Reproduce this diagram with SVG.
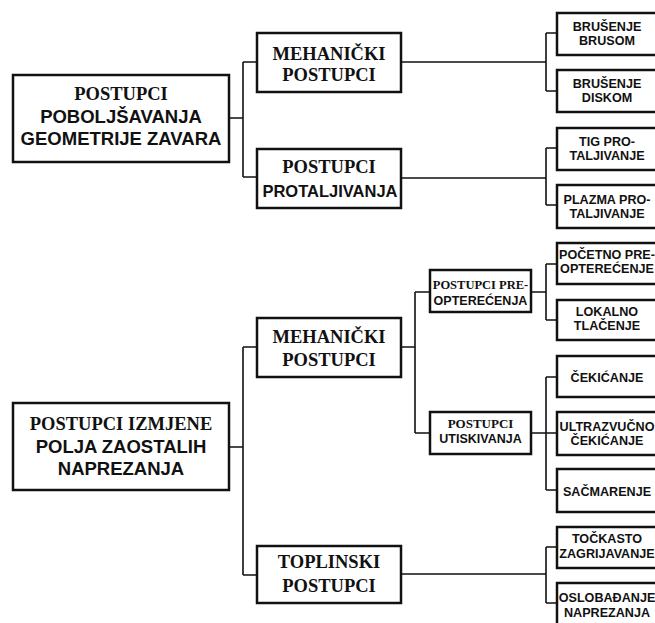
<svg xmlns="http://www.w3.org/2000/svg" width="655" height="623" viewBox="0 0 655 623">
<style>
.box{fill:#fff;stroke:#111;stroke-width:2.5}
.ln{fill:none;stroke:#111;stroke-width:1.6}
.sf{font-family:"Liberation Serif","Times New Roman",serif;font-weight:bold;fill:#111;text-anchor:middle}
.ss{font-family:"Liberation Sans",Arial,sans-serif;font-weight:bold;fill:#111;text-anchor:middle}
.big{font-size:18.5px}
.mid{font-size:13px}
.sm{font-size:12.6px}
</style>
<rect width="655" height="623" fill="#fff"/>
<g id="connectors">
<path class="ln" d="M229 118H243M243 62V177M243 62H257M243 177H257"/>
<path class="ln" d="M401 62H546M546 33V91M546 33H557M546 91H557"/>
<path class="ln" d="M401 178H546M546 148V205M546 148H557M546 205H557"/>
<path class="ln" d="M229 447H243M243 347V575M243 347H257M243 575H257"/>
<path class="ln" d="M401 347H415M415 292V433M415 292H430M415 433H430"/>
<path class="ln" d="M531 292H546M546 264V320M546 264H557M546 320H557"/>
<path class="ln" d="M531 433H557M546 377V490M546 377H557M546 490H557"/>
<path class="ln" d="M401 574H546M546 547V603M546 547H557M546 603H557"/>
</g>
<g id="n-poboljsavanje">
<rect class="box" x="13" y="75" width="216" height="87"/>
<text class="sf big" x="121" y="100">POSTUPCI</text>
<text class="ss big" x="121" y="123">POBOLJŠAVANJA</text>
<text class="ss big" x="121" y="145">GEOMETRIJE ZAVARA</text>
</g>
<g id="n-meh1">
<rect class="box" x="257" y="33" width="144" height="59"/>
<text class="sf big" x="329" y="60">MEHANIČKI</text>
<text class="sf big" x="329" y="81">POSTUPCI</text>
</g>
<g id="n-protalj">
<rect class="box" x="257" y="149" width="144" height="59"/>
<text class="sf big" x="329" y="173">POSTUPCI</text>
<text class="ss" font-size="16.5" x="330" y="197">PROTALJIVANJA</text>
</g>
<g id="n-brusom">
<rect class="box" x="557" y="13" width="102" height="42"/>
<text class="ss sm" x="607" y="31">BRUŠENJE</text>
<text class="ss sm" x="607" y="45">BRUSOM</text>
</g>
<g id="n-diskom">
<rect class="box" x="557" y="70" width="102" height="42"/>
<text class="ss sm" x="607" y="88">BRUŠENJE</text>
<text class="ss sm" x="607" y="102">DISKOM</text>
</g>
<g id="n-tig">
<rect class="box" x="557" y="128" width="102" height="42"/>
<text class="ss sm" x="607" y="146">TIG PRO-</text>
<text class="ss sm" x="607" y="160">TALJIVANJE</text>
</g>
<g id="n-plazma">
<rect class="box" x="557" y="185" width="102" height="43"/>
<text class="ss sm" x="607" y="204">PLAZMA PRO-</text>
<text class="ss sm" x="607" y="218">TALJIVANJE</text>
</g>
<g id="n-izmjena">
<rect class="box" x="13" y="403" width="216" height="87"/>
<text class="sf big" x="121" y="430">POSTUPCI IZMJENE</text>
<text class="ss big" x="121" y="453">POLJA ZAOSTALIH</text>
<text class="ss big" x="121" y="475">NAPREZANJA</text>
</g>
<g id="n-meh2">
<rect class="box" x="257" y="318" width="144" height="59"/>
<text class="sf big" x="329" y="343">MEHANIČKI</text>
<text class="sf big" x="329" y="366">POSTUPCI</text>
</g>
<g id="n-toplinski">
<rect class="box" x="257" y="546" width="144" height="57"/>
<text class="sf big" x="329" y="568">TOPLINSKI</text>
<text class="sf big" x="329" y="592">POSTUPCI</text>
</g>
<g id="n-preopt">
<rect class="box" x="430" y="270" width="101" height="42"/>
<text class="sf" font-size="12.5" x="480.5" y="289">POSTUPCI PRE-</text>
<text class="ss" font-size="12.5" x="480.5" y="305">OPTEREĆENJA</text>
</g>
<g id="n-utisk">
<rect class="box" x="430" y="412" width="101" height="42"/>
<text class="sf mid" x="480.5" y="428">POSTUPCI</text>
<text class="ss" font-size="12.5" x="480.5" y="443">UTISKIVANJA</text>
</g>
<g id="n-pocetno">
<rect class="box" x="557" y="243" width="102" height="41"/>
<text class="ss sm" x="607" y="259">POČETNO PRE-</text>
<text class="ss sm" x="607" y="273">OPTEREĆENJE</text>
</g>
<g id="n-lokalno">
<rect class="box" x="557" y="300" width="102" height="40"/>
<text class="ss sm" x="607" y="316">LOKALNO</text>
<text class="ss sm" x="607" y="330">TLAČENJE</text>
</g>
<g id="n-cekicanje">
<rect class="box" x="557" y="356" width="102" height="41"/>
<text class="ss sm" x="607" y="382">ČEKIĆANJE</text>
</g>
<g id="n-ultrazvucno">
<rect class="box" x="557" y="412" width="102" height="43"/>
<text class="ss sm" x="607" y="431">ULTRAZVUČNO</text>
<text class="ss sm" x="607" y="445">ČEKIĆANJE</text>
</g>
<g id="n-sacmarenje">
<rect class="box" x="557" y="469" width="102" height="43"/>
<text class="ss sm" x="607" y="496">SAČMARENJE</text>
</g>
<g id="n-tockasto">
<rect class="box" x="557" y="527" width="102" height="41"/>
<text class="ss sm" x="607" y="543">TOČKASTO</text>
<text class="ss sm" x="607" y="558">ZAGRIJAVANJE</text>
</g>
<g id="n-oslobadjanje">
<rect class="box" x="557" y="583" width="102" height="45"/>
<text class="ss sm" x="607" y="602">OSLOBAĐANJE</text>
<text class="ss sm" x="607" y="617">NAPREZANJA</text>
</g>
</svg>
